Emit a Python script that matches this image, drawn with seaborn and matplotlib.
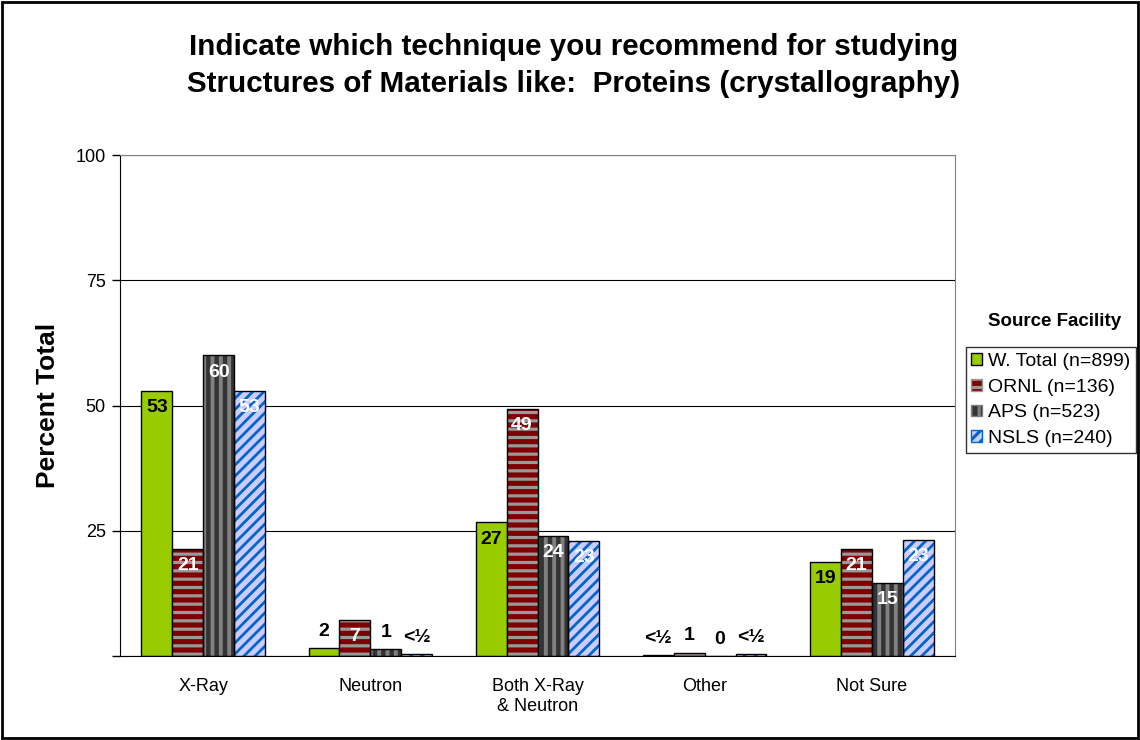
import matplotlib.pyplot as plt
import matplotlib.patches as mpatches
import numpy as np
import pandas as pd
import seaborn as sns

categories = ['X-Ray', 'Neutron', 'Both X-Ray\n& Neutron', 'Other', 'Not Sure']
series = ['W. Total (n=899)', 'ORNL (n=136)', 'APS (n=523)', 'NSLS (n=240)']

w_total = [52.9, 1.6, 26.7, 0.2, 18.8]
ornl = [21.4, 7.2, 49.3, 0.7, 21.4]
aps = [60.0, 1.4, 24.0, 0.0, 14.6]
nsls = [52.9, 0.4, 23.0, 0.4, 23.2]

w_total_lbl = ['53', '2', '27', '<½', '19']
ornl_lbl = ['21', '7', '49', '1', '21']
aps_lbl = ['60', '1', '24', '0', '15']
nsls_lbl = ['53', '<½', '23', '<½', '23']

values = [w_total, ornl, aps, nsls]
labels = [w_total_lbl, ornl_lbl, aps_lbl, nsls_lbl]

rows = []
for s, vals in zip(series, values):
    for c, v in zip(categories, vals):
        rows.append({'category': c, 'series': s, 'value': v})
df = pd.DataFrame(rows)

# face, hatch, hatch colour, hatch width, label colour (inside)
styles = [
    ('#99CC00', '', '#000000', 1.0, 'black'),
    ('#800000', '--', '#999999', 2.3, 'white'),
    ('#333333', '||', '#808080', 2.8, 'white'),
    ('#CCCCFF', '///', '#0066CC', 2.0, 'white'),
]

sns.set_style('white')
plt.rcParams['font.family'] = ['Liberation Sans', 'DejaVu Sans']
plt.rcParams['text.color'] = 'black'
plt.rcParams['axes.labelcolor'] = 'black'
plt.rcParams['xtick.color'] = 'black'
plt.rcParams['ytick.color'] = 'black'
plt.rcParams['hatch.linewidth'] = 2.3

fig = plt.figure(figsize=(11.4, 7.4), dpi=100)
ax = fig.add_axes([0.105, 0.1135, 0.733, 0.677])

sns.barplot(data=df, x='category', y='value', hue='series', order=categories,
            hue_order=series, palette=[s[0] for s in styles], width=0.74,
            saturation=1, edgecolor='black', linewidth=1, legend=False, ax=ax)

for i, cont in enumerate(ax.containers):
    face, hatch, hcol, hlw, lcol = styles[i]
    for j, p in enumerate(cont.patches):
        if hatch:
            p.set_hatch(hatch)
            p.set_edgecolor(hcol)
            p.set_linewidth(0)
            if hasattr(p, 'set_hatch_linewidth'):
                p.set_hatch_linewidth(hlw)
            ax.add_patch(mpatches.Rectangle((p.get_x(), p.get_y()), p.get_width(), p.get_height(),
                                            fill=False, edgecolor='black', linewidth=1, zorder=p.get_zorder() + 0.1))
        v = values[i][j]
        xc = p.get_x() + p.get_width() / 2
        if v >= 5:
            ax.annotate(labels[i][j], (xc, v), xytext=(0, -6), textcoords='offset points',
                        ha='center', va='top', fontsize=14, fontweight='bold', color=lcol, zorder=5)
        else:
            ax.annotate(labels[i][j], (xc, v), xytext=(0, 6), textcoords='offset points',
                        ha='center', va='bottom', fontsize=14, fontweight='bold', color='black', zorder=5)

ax.set_xlim(-0.5, 4.5)
ax.set_ylim(0, 100)
ax.set_yticks([0, 25, 50, 75, 100])
ax.set_yticklabels(['', '25', '50', '75', '100'], fontsize=13)
ax.yaxis.grid(True, color='black', linewidth=0.8)
ax.set_axisbelow(True)
ax.set_xticks(np.arange(5))
ax.set_xticklabels(categories, fontsize=13, linespacing=1.2)
ax.set_xticks(np.arange(-0.5, 5, 1), minor=True)
ax.tick_params(axis='x', which='major', length=0, pad=16)
ax.tick_params(axis='x', which='minor', length=6, width=1, color='black', direction='out')
ax.tick_params(axis='y', length=6, width=1, color='black', direction='out', left=True, pad=4)
ax.set_xlabel('')
ax.set_ylabel('Percent Total', fontsize=19, fontweight='bold', labelpad=11)
for side in ['left', 'bottom']:
    ax.spines[side].set_color('black')
for side in ['top', 'right']:
    ax.spines[side].set_color('#808080')

fig.text(0.503, 0.911, 'Indicate which technique you recommend for studying\nStructures of Materials like:  Proteins (crystallography)',
         ha='center', va='center', fontsize=21.3, fontweight='bold', linespacing=1.4)

handles = [mpatches.Patch(facecolor=s[0], hatch=s[1], edgecolor='black' if not s[1] else s[2]) for s in styles]
leg = fig.legend(handles, series, loc='upper left', bbox_to_anchor=(0.847, 0.531), fontsize=14,
                 frameon=True, fancybox=False, edgecolor='black', handlelength=0.55, handleheight=0.55,
                 handletextpad=0.3, borderpad=0.3, labelspacing=0.45, borderaxespad=0)
leg.get_frame().set_linewidth(1)
fig.text(0.925, 0.565, 'Source Facility', ha='center', va='center', fontsize=13.5, fontweight='bold')

fig.patches.append(mpatches.Rectangle((0.002, 0.003), 0.996, 0.994, transform=fig.transFigure,
                                      fill=False, edgecolor='black', linewidth=2))

fig.savefig('out.png', dpi=100)
